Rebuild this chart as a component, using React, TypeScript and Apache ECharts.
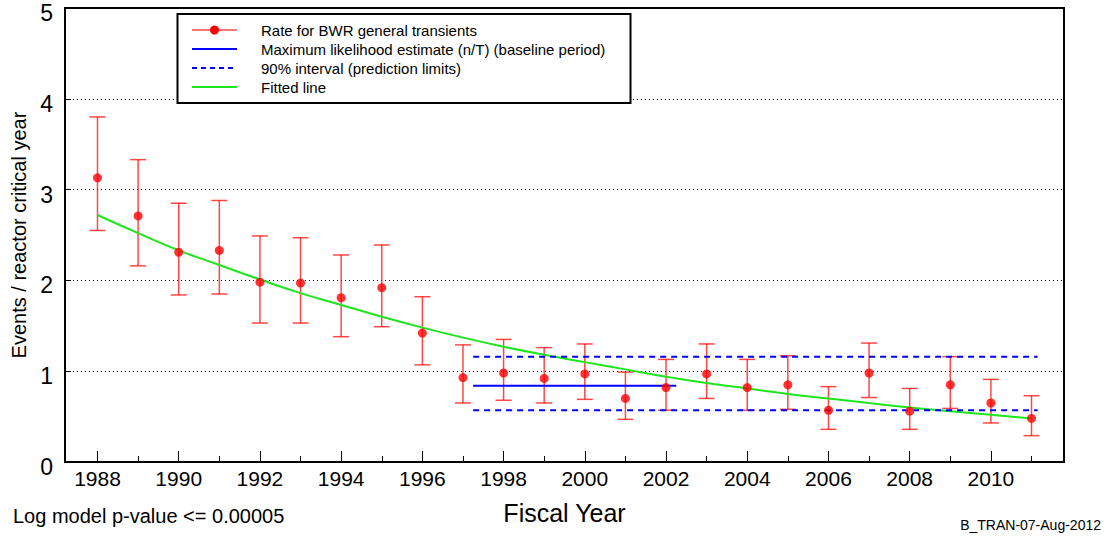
import React, { useEffect, useRef } from 'react';
import * as echarts from 'echarts';

const years = [1988, 1989, 1990, 1991, 1992, 1993, 1994, 1995, 1996, 1997, 1998, 1999,
    2000, 2001, 2002, 2003, 2004, 2005, 2006, 2007, 2008, 2009, 2010, 2011];
const rate = [3.13, 2.71, 2.31, 2.33, 1.98, 1.97, 1.81, 1.92, 1.42, 0.93, 0.98, 0.92,
    0.97, 0.70, 0.82, 0.97, 0.82, 0.85, 0.57, 0.98, 0.56, 0.85, 0.65, 0.48];
const lower = [2.55, 2.16, 1.84, 1.85, 1.53, 1.53, 1.38, 1.49, 1.07, 0.65, 0.68, 0.65,
    0.69, 0.47, 0.57, 0.70, 0.57, 0.58, 0.36, 0.71, 0.36, 0.59, 0.43, 0.29];
const upper = [3.80, 3.33, 2.85, 2.88, 2.49, 2.47, 2.28, 2.39, 1.82, 1.29, 1.35, 1.26,
    1.30, 0.99, 1.13, 1.30, 1.13, 1.17, 0.83, 1.31, 0.81, 1.16, 0.91, 0.73];
const fitted = [2.72, 2.52, 2.33, 2.17, 2.01, 1.86, 1.73, 1.60, 1.48, 1.37, 1.27, 1.18,
    1.10, 1.02, 0.94, 0.87, 0.81, 0.75, 0.70, 0.65, 0.60, 0.56, 0.52, 0.48];

// baseline period estimate and prediction limits
const baselineStart = 1997.25;
const baselineEnd = 2002.25;
const limitsEnd = 2011.15;
const mle = 0.84;
const upperLimit = 1.16;
const lowerLimit = 0.57;

const majorYears = [1988, 1990, 1992, 1994, 1996, 1998, 2000, 2002, 2004, 2006, 2008, 2010];
const minorYears = [1989, 1991, 1993, 1995, 1997, 1999, 2001, 2003, 2005, 2007, 2009, 2011];

const legendLabels = [
    'Rate for BWR general transients',
    'Maximum likelihood estimate (n/T) (baseline period)',
    '90% interval (prediction limits)',
    'Fitted line'
];

const FONT = 'Liberation Sans, Arial, sans-serif';
const RED = '#ff0000';
const BAR_RED = 'rgba(255,0,0,0.72)';
const BLUE = '#0000ff';
const GREEN = '#1ee61e';

const App: React.FC = () => {
    const chartRef = useRef<HTMLDivElement>(null);

    useEffect(() => {
        if (!chartRef.current) return;
        const chart = echarts.init(chartRef.current, null, { renderer: 'svg' });

        const xMin = 1987.2;
        const xMax = 2011.8;

        const legendRows = [30, 49, 68, 87];
        const lx1 = 192;
        const lx2 = 237;
        const legendGraphics: any[] = [
            {
                type: 'rect',
                shape: { x: 177.5, y: 14, width: 453, height: 89 },
                style: { fill: '#fff', stroke: '#000', lineWidth: 2 },
                z: 100
            },
            {
                type: 'line',
                shape: { x1: lx1, y1: legendRows[0], x2: lx2, y2: legendRows[0] },
                style: { stroke: BAR_RED, lineWidth: 1.5 },
                z: 101
            },
            {
                type: 'circle',
                shape: { cx: (lx1 + lx2) / 2, cy: legendRows[0], r: 4.5 },
                style: { fill: RED },
                z: 102
            },
            {
                type: 'line',
                shape: { x1: lx1, y1: legendRows[1], x2: lx2, y2: legendRows[1] },
                style: { stroke: BLUE, lineWidth: 2 },
                z: 101
            },
            {
                type: 'line',
                shape: { x1: lx1, y1: legendRows[2], x2: lx2, y2: legendRows[2] },
                style: { stroke: BLUE, lineWidth: 2, lineDash: [5, 4] },
                z: 101
            },
            {
                type: 'line',
                shape: { x1: lx1, y1: legendRows[3], x2: lx2, y2: legendRows[3] },
                style: { stroke: GREEN, lineWidth: 2 },
                z: 101
            },
            ...legendLabels.map((t, i) => ({
                type: 'text',
                x: 261,
                y: legendRows[i],
                style: {
                    text: t,
                    font: `15px ${FONT}`,
                    fill: '#000',
                    align: 'left',
                    verticalAlign: 'middle',
                    textAlign: 'left',
                    textVerticalAlign: 'middle'
                },
                z: 101
            }))
        ];

        const option = {
            animation: false,
            textStyle: { fontFamily: FONT },
            grid: {
                left: 65,
                right: 43,
                top: 8,
                bottom: 78,
                show: true,
                borderColor: '#000',
                borderWidth: 2,
                containLabel: false,
                outerBoundsMode: 'none'
            },
            xAxis: [
                {
                    type: 'value',
                    min: xMin,
                    max: xMax,
                    position: 'bottom',
                    name: 'Fiscal Year',
                    nameLocation: 'middle',
                    nameGap: 38,
                    nameTextStyle: { fontSize: 25, color: '#000', fontFamily: FONT },
                    axisLine: { show: true, lineStyle: { color: '#000', width: 2 } },
                    axisTick: {
                        show: true,
                        inside: true,
                        length: 11,
                        customValues: majorYears,
                        lineStyle: { color: '#000', width: 1 }
                    },
                    axisLabel: {
                        customValues: majorYears,
                        fontSize: 21,
                        color: '#000',
                        margin: 6,
                        fontFamily: FONT,
                        formatter: (v: number) => String(v)
                    },
                    splitLine: { show: false }
                },
                {
                    type: 'value',
                    min: xMin,
                    max: xMax,
                    position: 'bottom',
                    offset: 0,
                    axisLine: { show: false },
                    axisTick: {
                        show: true,
                        inside: true,
                        length: 6,
                        customValues: minorYears,
                        lineStyle: { color: '#000', width: 1 }
                    },
                    axisLabel: { show: false },
                    splitLine: { show: false }
                }
            ],
            yAxis: {
                type: 'value',
                min: 0,
                max: 5,
                interval: 1,
                name: 'Events / reactor critical year',
                nameLocation: 'middle',
                nameGap: 35,
                nameTextStyle: { fontSize: 20, color: '#000', fontFamily: FONT },
                axisLine: { show: true, lineStyle: { color: '#000', width: 2 } },
                axisTick: { show: true, inside: true, length: 6, lineStyle: { color: '#000' } },
                axisLabel: {
                    color: '#000',
                    margin: 12,
                    formatter: (v: number) => `{n|${v}}`,
                    rich: {
                        n: {
                            fontSize: 23,
                            color: '#000',
                            fontFamily: FONT,
                            padding: [10, 0, 0, 0]
                        }
                    }
                },
                splitLine: {
                    show: true,
                    lineStyle: { color: '#000', type: [1, 3], width: 1 }
                }
            },
            series: [
                {
                    name: 'error bars',
                    type: 'custom',
                    xAxisIndex: 0,
                    data: years.map((y, i) => [y, rate[i], lower[i], upper[i]]),
                    encode: { x: 0, y: [2, 3] },
                    renderItem: (_params: any, api: any) => {
                        const x = api.value(0);
                        const top = api.coord([x, api.value(3)]);
                        const bot = api.coord([x, api.value(2)]);
                        const hw = 8;
                        const style = { stroke: BAR_RED, lineWidth: 1.5 };
                        return {
                            type: 'group',
                            children: [
                                { type: 'line', shape: { x1: top[0], y1: top[1], x2: bot[0], y2: bot[1] }, style },
                                { type: 'line', shape: { x1: top[0] - hw, y1: top[1], x2: top[0] + hw, y2: top[1] }, style },
                                { type: 'line', shape: { x1: bot[0] - hw, y1: bot[1], x2: bot[0] + hw, y2: bot[1] }, style }
                            ]
                        };
                    },
                    z: 3
                },
                {
                    name: 'Fitted line',
                    type: 'line',
                    xAxisIndex: 0,
                    data: years.map((y, i) => [y, fitted[i]]),
                    smooth: true,
                    symbol: 'none',
                    lineStyle: { color: GREEN, width: 2 },
                    z: 4
                },
                {
                    name: 'MLE',
                    type: 'line',
                    xAxisIndex: 0,
                    data: [[baselineStart, mle], [baselineEnd, mle]],
                    symbol: 'none',
                    lineStyle: { color: BLUE, width: 2 },
                    z: 4
                },
                {
                    name: 'Upper limit',
                    type: 'line',
                    xAxisIndex: 0,
                    data: [[baselineStart, upperLimit], [limitsEnd, upperLimit]],
                    symbol: 'none',
                    lineStyle: { color: BLUE, width: 2, type: [6, 5] },
                    z: 4
                },
                {
                    name: 'Lower limit',
                    type: 'line',
                    xAxisIndex: 0,
                    data: [[baselineStart, lowerLimit], [limitsEnd, lowerLimit]],
                    symbol: 'none',
                    lineStyle: { color: BLUE, width: 2, type: [6, 5] },
                    z: 4
                },
                {
                    name: 'Rate for BWR general transients',
                    type: 'scatter',
                    xAxisIndex: 0,
                    data: years.map((y, i) => [y, rate[i]]),
                    symbol: 'circle',
                    symbolSize: 9,
                    itemStyle: { color: RED },
                    z: 5
                }
            ],
            graphic: [
                ...legendGraphics,
                {
                    type: 'text',
                    x: 13,
                    y: 516,
                    style: {
                        text: 'Log model p-value <= 0.00005',
                        font: `20px ${FONT}`,
                        fill: '#000',
                        align: 'left',
                        verticalAlign: 'middle',
                        textAlign: 'left',
                        textVerticalAlign: 'middle'
                    }
                },
                {
                    type: 'text',
                    x: 1101,
                    y: 525,
                    style: {
                        text: 'B_TRAN-07-Aug-2012',
                        font: `14px ${FONT}`,
                        fill: '#000',
                        align: 'right',
                        verticalAlign: 'middle',
                        textAlign: 'right',
                        textVerticalAlign: 'middle'
                    }
                }
            ]
        };

        chart.setOption(option as any);

        const handleResize = () => chart.resize();
        window.addEventListener('resize', handleResize);

        return () => {
            window.removeEventListener('resize', handleResize);
            chart.dispose();
        };
    }, []);

    return (
        <div
            ref={chartRef}
            style={{ position: 'absolute', left: 0, top: 0, width: 1107, height: 540, background: '#fff' }}
        />
    );
};

export default App;
